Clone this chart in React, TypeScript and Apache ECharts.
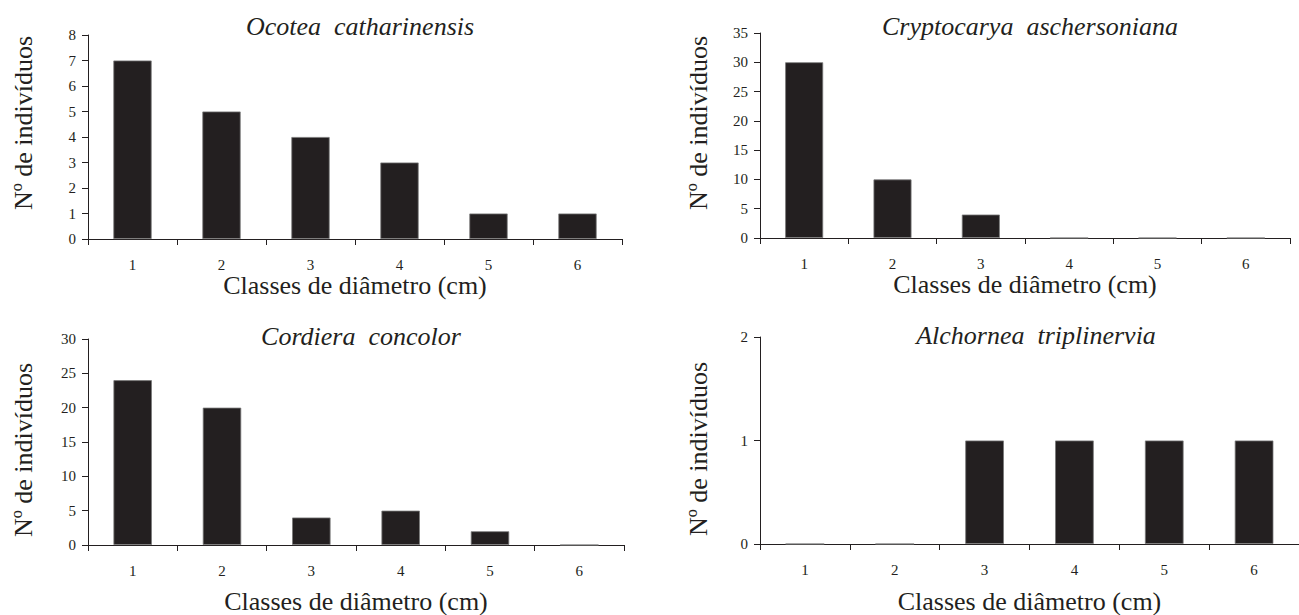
import React, { useEffect, useRef } from "react";
import * as echarts from "echarts";

const categories = ["1", "2", "3", "4", "5", "6"];
const titles = [
  "Ocotea  catharinensis",
  "Cryptocarya  aschersoniana",
  "Cordiera  concolor",
  "Alchornea  triplinervia",
];
const ocoteaValues = [7, 5, 4, 3, 1, 1];
const cryptocaryaValues = [30, 10, 4, 0, 0, 0];
const cordieraValues = [24, 20, 4, 5, 2, 0];
const alchorneaValues = [0, 0, 1, 1, 1, 1];
const yMax = [8, 35, 30, 2];
const yInterval = [1, 5, 5, 1];
const xAxisName = "Classes de diâmetro (cm)";
const yAxisName = "Nº de indivíduos";

const FONT = "'Liberation Serif', 'Times New Roman', serif";
const INK = "#231f20";

export default function App() {
  const ref = useRef<HTMLDivElement>(null);
  useEffect(() => {
    document.body.style.margin = "0";
    const chart = echarts.init(ref.current!, undefined, { renderer: "svg" });
    const series = [ocoteaValues, cryptocaryaValues, cordieraValues, alchorneaValues];
    const grids = [
      { left: 88, top: 35, width: 534, height: 204 },
      { left: 760, top: 33, width: 530, height: 205 },
      { left: 88, top: 339, width: 536, height: 207 },
      { left: 760, top: 337, width: 548, height: 208 },
    ];
    const titleTops = [8, 8, 318, 317];
    const nameGaps = [31, 32, 43, 44];
    const yNamePos = [
      [23, 123],
      [698, 123],
      [23, 450],
      [698, 449],
    ];
    const axisLine = { show: true, lineStyle: { color: INK, width: 1 } };
    const option: any = {
      animation: false,
      backgroundColor: "#ffffff",
      textStyle: { fontFamily: FONT },
      title: grids.map((g, i) => ({
        text: titles[i],
        left: g.left + (i === 3 ? 271 : g.width / 2),
        top: titleTops[i],
        textAlign: "center",
        textStyle: {
          fontFamily: FONT,
          fontStyle: "italic",
          fontWeight: "normal",
          fontSize: 26,
          color: INK,
        },
      })),
      grid: grids.map((g) => ({ ...g, containLabel: false })),
      xAxis: grids.map((g, i) => ({
        type: "category",
        gridIndex: i,
        data: categories,
        boundaryGap: true,
        name: xAxisName,
        nameLocation: "middle",
        nameGap: nameGaps[i],
        nameTextStyle: { fontFamily: FONT, fontSize: 26, color: INK },
        axisLine,
        axisTick: { show: true, length: 6, lineStyle: { color: INK } },
        axisLabel: { fontFamily: FONT, fontSize: 15, color: INK, margin: 18 },
        splitLine: { show: false },
      })),
      yAxis: grids.map((g, i) => ({
        type: "value",
        gridIndex: i,
        min: 0,
        max: yMax[i],
        interval: yInterval[i],
        axisLine,
        axisTick: { show: true, length: 6, lineStyle: { color: INK } },
        axisLabel: { fontFamily: FONT, fontSize: 15, color: INK, margin: 12 },
        splitLine: { show: false },
      })),
      series: series.map((d, i) => ({
        type: "bar",
        xAxisIndex: i,
        yAxisIndex: i,
        data: d,
        barWidth: "43%",
        itemStyle: { color: INK, borderColor: "#777", borderWidth: 0.8 },
      })),
      graphic: yNamePos.map(([x, y]) => ({
        type: "text",
        x,
        y,
        rotation: Math.PI / 2,
        style: {
          text: yAxisName,
          fontFamily: FONT,
          fontSize: 26,
          fill: INK,
          align: "center",
          verticalAlign: "middle",
        },
      })),
    };
    chart.setOption(option);
    return () => chart.dispose();
  }, []);
  return <div ref={ref} style={{ width: 1299, height: 615 }} />;
}
